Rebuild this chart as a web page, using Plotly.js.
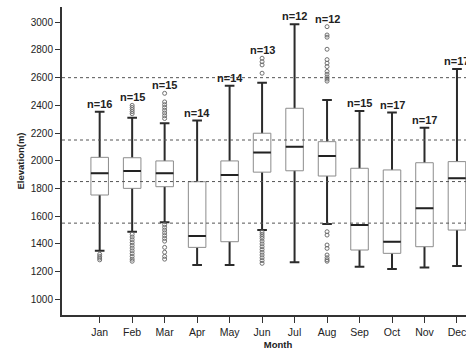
<!DOCTYPE html>
<html>
<head>
<meta charset="utf-8">
<script src="https://cdn.plot.ly/plotly-3.0.1.min.js"></script>
<style>
html,body{margin:0;padding:0;overflow:hidden;background:#fff;}
#chart{width:500px;height:351px;}
</style>
</head>
<body>
<div id="chart"></div>
<script>
// ---- data ----
const months = ['Jan','Feb','Mar','Apr','May','Jun','Jul','Aug','Sep','Oct','Nov','Dec'];
const counts = [16,15,15,14,14,13,12,12,15,17,17,17];
const lowerWhisker = [1351,1488,1556,1248,1248,1500,1267,1544,1236,1219,1229,1240];
const q1Values     = [1753,1801,1813,1375,1416,1918,1928,1890,1356,1332,1380,1500];
const medianValues = [1910,1926,1910,1457,1897,2059,2102,2035,1536,1416,1657,1874];
const q3Values     = [2025,2022,1999,1849,1999,2199,2379,2138,1946,1934,1986,1994];
const upperWhisker = [2354,2311,2271,2290,2542,2564,2986,2439,2360,2348,2239,2663];
const outliersJan = [1325,1310,1298,1285];
const outliersFeb = [2400,2385,2370,2355,2340,1470,1450,1430,1410,1390,1370,1350,1330,1310,1290,1275];
const outliersMar = [2487,2425,2405,2385,2365,2345,2325,2305,1540,1520,1500,1480,1460,1440,1420,1375,1340,1310,1290];
const outliersApr = [];
const outliersMay = [];
const outliersJun = [2740,2715,2692,2632,1485,1470,1455,1440,1420,1400,1380,1360,1340,1320,1300,1280,1260];
const outliersJul = [];
const outliersAug = [2968,2908,2892,2805,2730,2705,2680,2645,2625,2605,2590,2575,1488,1464,1392,1368,1320,1300,1285,1275];
const outliersSep = [];
const outliersOct = [];
const outliersNov = [];
const outliersDec = [];
const refLines = [2600,2150,1850,1550];
const yTicks = [1000,1200,1400,1600,1800,2000,2200,2400,2600,2800,3000];

// ---- build traces ----
const outlierLists = [outliersJan,outliersFeb,outliersMar,outliersApr,outliersMay,outliersJun,
                      outliersJul,outliersAug,outliersSep,outliersOct,outliersNov,outliersDec];
const ox = [], oy = [];
outlierLists.forEach((list,i)=>list.forEach(v=>{ox.push(months[i]); oy.push(v);}));

const boxW = 0.54;
const dark = '#2b2b2b';

const whiskerTrace = {
  type:'box', x:months, q1:medianValues, median:medianValues, q3:medianValues,
  lowerfence:lowerWhisker, upperfence:upperWhisker,
  width:boxW, whiskerwidth:0.55, boxpoints:false,
  line:{color:dark,width:2}, fillcolor:'#ffffff', hoverinfo:'skip', showlegend:false
};
const boxTrace = {
  type:'box', x:months, q1:q1Values, median:medianValues, q3:q3Values,
  lowerfence:q1Values, upperfence:q3Values,
  width:boxW, whiskerwidth:0, boxpoints:false,
  line:{color:'#8c8c8c',width:1}, fillcolor:'#ffffff', hoverinfo:'skip', showlegend:false
};
const medianTrace = {
  type:'box', x:months, q1:medianValues, median:medianValues, q3:medianValues,
  lowerfence:medianValues, upperfence:medianValues,
  width:boxW, whiskerwidth:0, boxpoints:false,
  line:{color:'#222222',width:2}, fillcolor:'rgba(0,0,0,0)', hoverinfo:'skip', showlegend:false
};
const outlierTrace = {
  type:'scatter', mode:'markers', x:ox, y:oy,
  marker:{symbol:'circle-open', size:4, color:'#707070', line:{width:1,color:'#707070'}},
  hoverinfo:'skip', showlegend:false
};

const annotations = months.map((m,i)=>{
  const top = Math.max(upperWhisker[i], ...outlierLists[i]);
  return {x:m, y:top, xref:'x', yref:'y', text:'n='+counts[i], showarrow:false,
          yanchor:'bottom', yshift:0,
          font:{family:'Liberation Sans, Arial, sans-serif', size:11, color:'#222', weight:'bold'}};
});

const shapes = refLines.map(v=>({type:'line', xref:'paper', x0:0, x1:1, yref:'y', y0:v, y1:v,
  line:{color:'#555', width:1, dash:'dot'}, layer:'above'}));

const layout = {
  width:500, height:351,
  margin:{l:62, r:6, t:7, b:36},
  paper_bgcolor:'#fff', plot_bgcolor:'#fff',
  font:{family:'Liberation Sans, Arial, sans-serif', color:'#222'},
  boxmode:'overlay',
  showlegend:false,
  xaxis:{
    type:'category', range:[-1.16,12.14],
    showgrid:false, zeroline:false,
    showline:true, linecolor:'#333', linewidth:2,
    ticks:'outside', ticklen:6, tickcolor:'#333', tickwidth:1,
    tickfont:{size:10.5, color:'#222'},
    title:{text:'Month', font:{size:9.5, color:'#222', weight:'bold'}, standoff:5}
  },
  yaxis:{
    range:[887,3110],
    tickvals:yTicks,
    showgrid:false, zeroline:false,
    showline:true, linecolor:'#333', linewidth:2,
    ticks:'outside', ticklen:5, tickcolor:'#333', tickwidth:1,
    tickfont:{size:10, color:'#222'},
    title:{text:'Elevation(m)', font:{size:9.5, color:'#222', weight:'bold'}, standoff:4}
  },
  shapes:shapes,
  annotations:annotations
};

Plotly.newPlot('chart',[whiskerTrace, boxTrace, medianTrace, outlierTrace], layout,
  {displayModeBar:false, staticPlot:true});
</script>
</body>
</html>
